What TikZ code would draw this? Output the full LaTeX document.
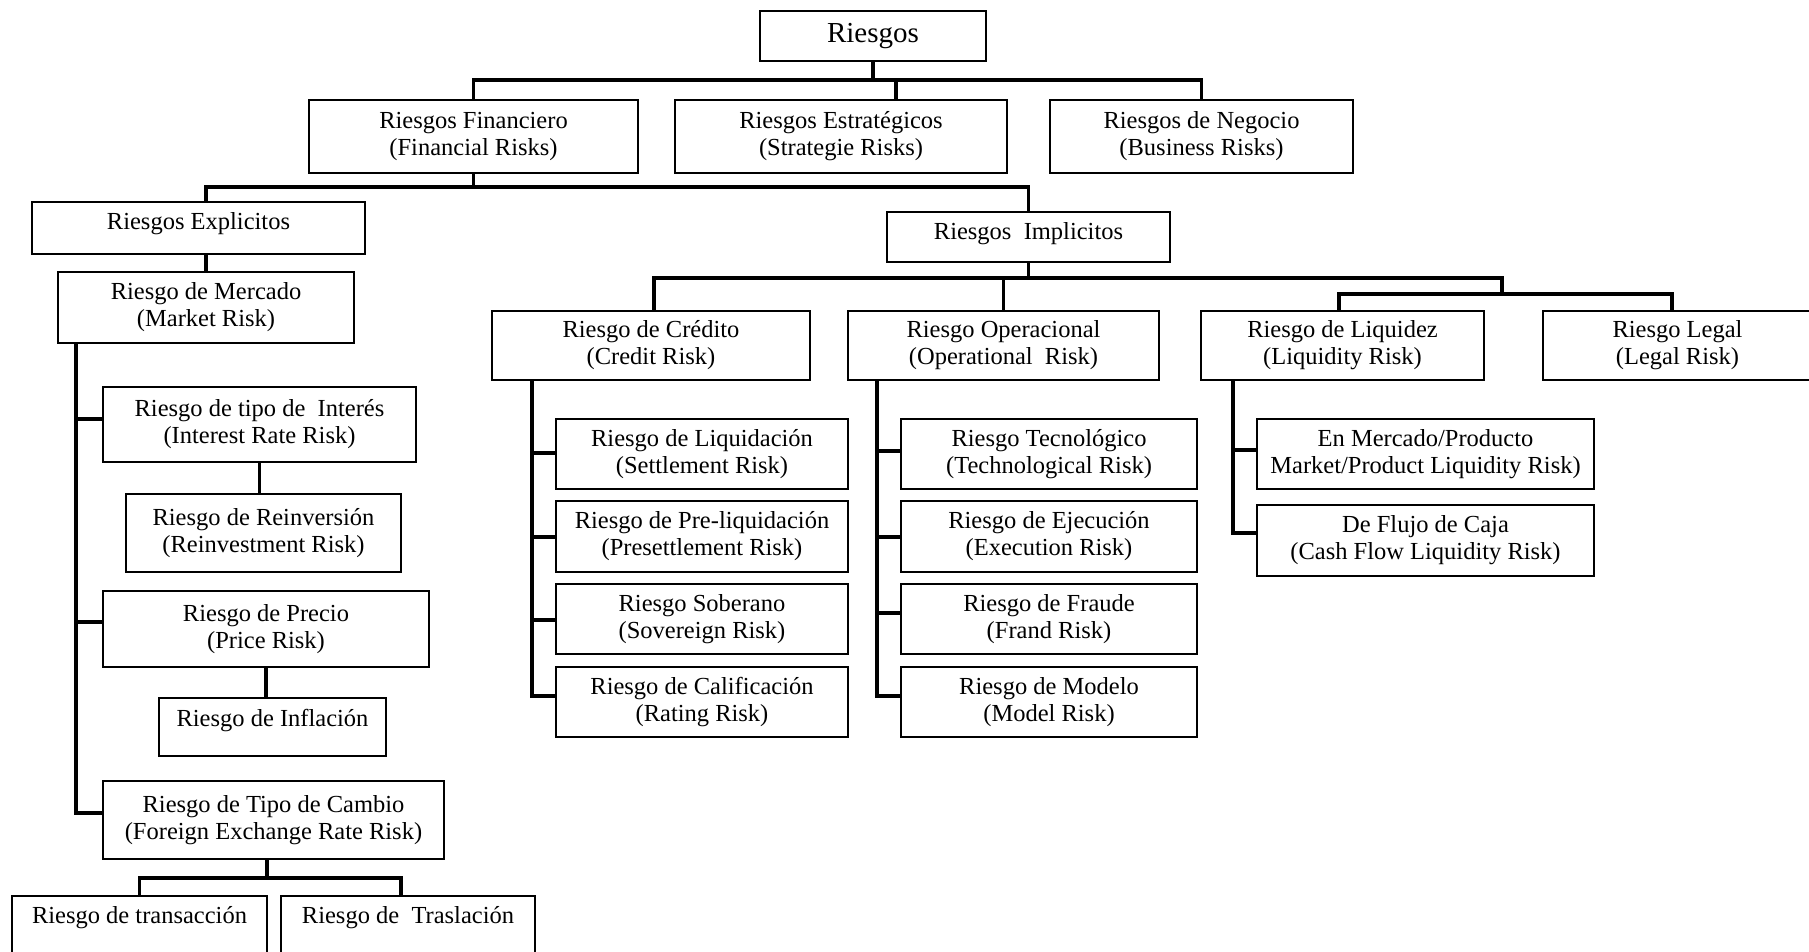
\documentclass[tikz,border=0pt]{standalone}
\usepackage{fontspec}
\setmainfont{Liberation Serif}
\newcommand\riskbox[7][]{%
  \node[box,minimum width={#4-#3},minimum height={#6-#5},#1] (#2) at ({(#3+#4)/2},{(#5+#6)/2}) {#7};}
\begin{document}
\begin{tikzpicture}[x=1pt,y=-1pt,
  box/.style={draw=black,line width=1.8pt,inner sep=0pt,outer sep=0pt,align=center,
    font=\fontsize{24.5}{27}\selectfont},
  raised/.style={text height=17pt,text depth=#1},
  conn/.style={draw=black,line width=3.3pt,line join=miter}]
\useasboundingbox (0,0) rectangle (1809,951);
\clip (0,0) rectangle (1809,951);
\fill[white] (0,0) rectangle (1809,951);

% top
\riskbox[font=\fontsize{29}{32}\selectfont]{R}{760}{986}{11}{61}{Riesgos}
\riskbox{fin}{309}{638}{100}{173}{Riesgos Financiero\\(Financial Risks)}
\riskbox{est}{675}{1007}{100}{173}{Riesgos Estratégicos\\(Strategie Risks)}
\riskbox{neg}{1050}{1353}{100}{173}{Riesgos de Negocio\\(Business Risks)}
\riskbox[raised=15pt]{exp}{32}{365}{202}{254}{Riesgos Explicitos}
\riskbox[raised=13pt]{imp}{887}{1170}{212}{262}{Riesgos\ \ Implicitos}

% explicit branch
\riskbox{mkt}{58}{354}{272}{343}{Riesgo de Mercado\\(Market Risk)}
\riskbox{int}{103}{416}{387}{462}{Riesgo de tipo de\ \ Interés\\(Interest Rate Risk)}
\riskbox{reinv}{126}{401}{494}{572}{Riesgo de Reinversión\\(Reinvestment Risk)}
\riskbox{prec}{103}{429}{591}{667}{Riesgo de Precio\\(Price Risk)}
\riskbox[raised=19pt]{infl}{159}{386}{698}{756}{Riesgo de Inflación}
\riskbox{fx}{103}{444}{781}{859}{Riesgo de Tipo de Cambio\\(Foreign Exchange Rate Risk)}
\riskbox[raised=25pt]{trans}{12}{267}{896}{958}{Riesgo de transacción}
\riskbox[raised=25pt]{trasl}{281}{535}{896}{958}{Riesgo de\ \ Traslación}

% implicit branch
\riskbox{cred}{492}{810}{311}{380}{Riesgo de Crédito\\(Credit Risk)}
\riskbox{oper}{848}{1159}{311}{380}{Riesgo Operacional\\(Operational\ \ Risk)}
\riskbox{liq}{1201}{1484}{311}{380}{Riesgo de Liquidez\\(Liquidity Risk)}
\riskbox{legal}{1543}{1812}{311}{380}{Riesgo Legal\\(Legal Risk)}

\riskbox{c1}{556}{848}{419}{489}{Riesgo de Liquidación\\(Settlement Risk)}
\riskbox{c2}{556}{848}{501}{572}{Riesgo de Pre-liquidación\\(Presettlement Risk)}
\riskbox{c3}{556}{848}{584}{654}{Riesgo Soberano\\(Sovereign Risk)}
\riskbox{c4}{556}{848}{667}{737}{Riesgo de Calificación\\(Rating Risk)}

\riskbox{o1}{901}{1197}{419}{489}{Riesgo Tecnológico\\(Technological Risk)}
\riskbox{o2}{901}{1197}{501}{572}{Riesgo de Ejecución\\(Execution Risk)}
\riskbox{o3}{901}{1197}{584}{654}{Riesgo de Fraude\\(Frand Risk)}
\riskbox{o4}{901}{1197}{667}{737}{Riesgo de Modelo\\(Model Risk)}

\riskbox{l1}{1257}{1594}{419}{489}{En Mercado/Producto\\Market/Product Liquidity Risk)}
\riskbox{l2}{1257}{1594}{505}{576}{De Flujo de Caja\\(Cash Flow Liquidity Risk)}

% ---- connectors ----
% level 1
\draw[conn] (R.south) -- (R.south |- 0,80);
\draw[conn] (fin.north) -- (fin.north |- 0,80) -- (neg.north |- 0,80) -- (neg.north);
\draw[conn] (est.north -| 896,0) -- (896,80);
% level 2
\draw[conn] (fin.south) -- (fin.south |- 0,187);
\draw[conn] (exp.north -| 206,0) -- (206,187) -- (imp.north |- 0,187) -- (imp.north);
\draw[conn] (exp.south -| mkt.north) -- (mkt.north);
% market risk
\draw[conn] (mkt.south -| 76,0) -- (76,813) -- (fx.west |- 0,813);
\draw[conn] (76,419) -- (int.west |- 0,419);
\draw[conn] (76,622) -- (prec.west |- 0,622);
\draw[conn] (int.south) -- (int.south |- reinv.north);
\draw[conn] (prec.south) -- (prec.south |- infl.north);
\draw[conn] (fx.south -| 267,0) -- (267,878);
\draw[conn] (trans.north) -- (trans.north |- 0,878) -- (401,878) -- (trasl.north -| 401,0);
% implicit
\draw[conn] (imp.south) -- (imp.south |- 0,278);
\draw[conn] (cred.north -| 654,0) -- (654,278) -- (1502,278) -- (1502,294);
\draw[conn] (oper.north) -- (oper.north |- 0,278);
\draw[conn] (liq.north -| 1339,0) -- (1339,294) -- (1672,294) -- (legal.north -| 1672,0);
% credit
\draw[conn] (cred.south -| 532,0) -- (532,696) -- (c4.west |- 0,696);
\draw[conn] (532,453) -- (c1.west |- 0,453);
\draw[conn] (532,537) -- (c2.west |- 0,537);
\draw[conn] (532,620) -- (c3.west |- 0,620);
% operational
\draw[conn] (oper.south -| 877,0) -- (877,696) -- (o4.west |- 0,696);
\draw[conn] (877,451) -- (o1.west |- 0,451);
\draw[conn] (877,537) -- (o2.west |- 0,537);
\draw[conn] (877,613) -- (o3.west |- 0,613);
% liquidity
\draw[conn] (liq.south -| 1233,0) -- (1233,533) -- (l2.west |- 0,533);
\draw[conn] (1233,450) -- (l1.west |- 0,450);
\end{tikzpicture}
\end{document}
